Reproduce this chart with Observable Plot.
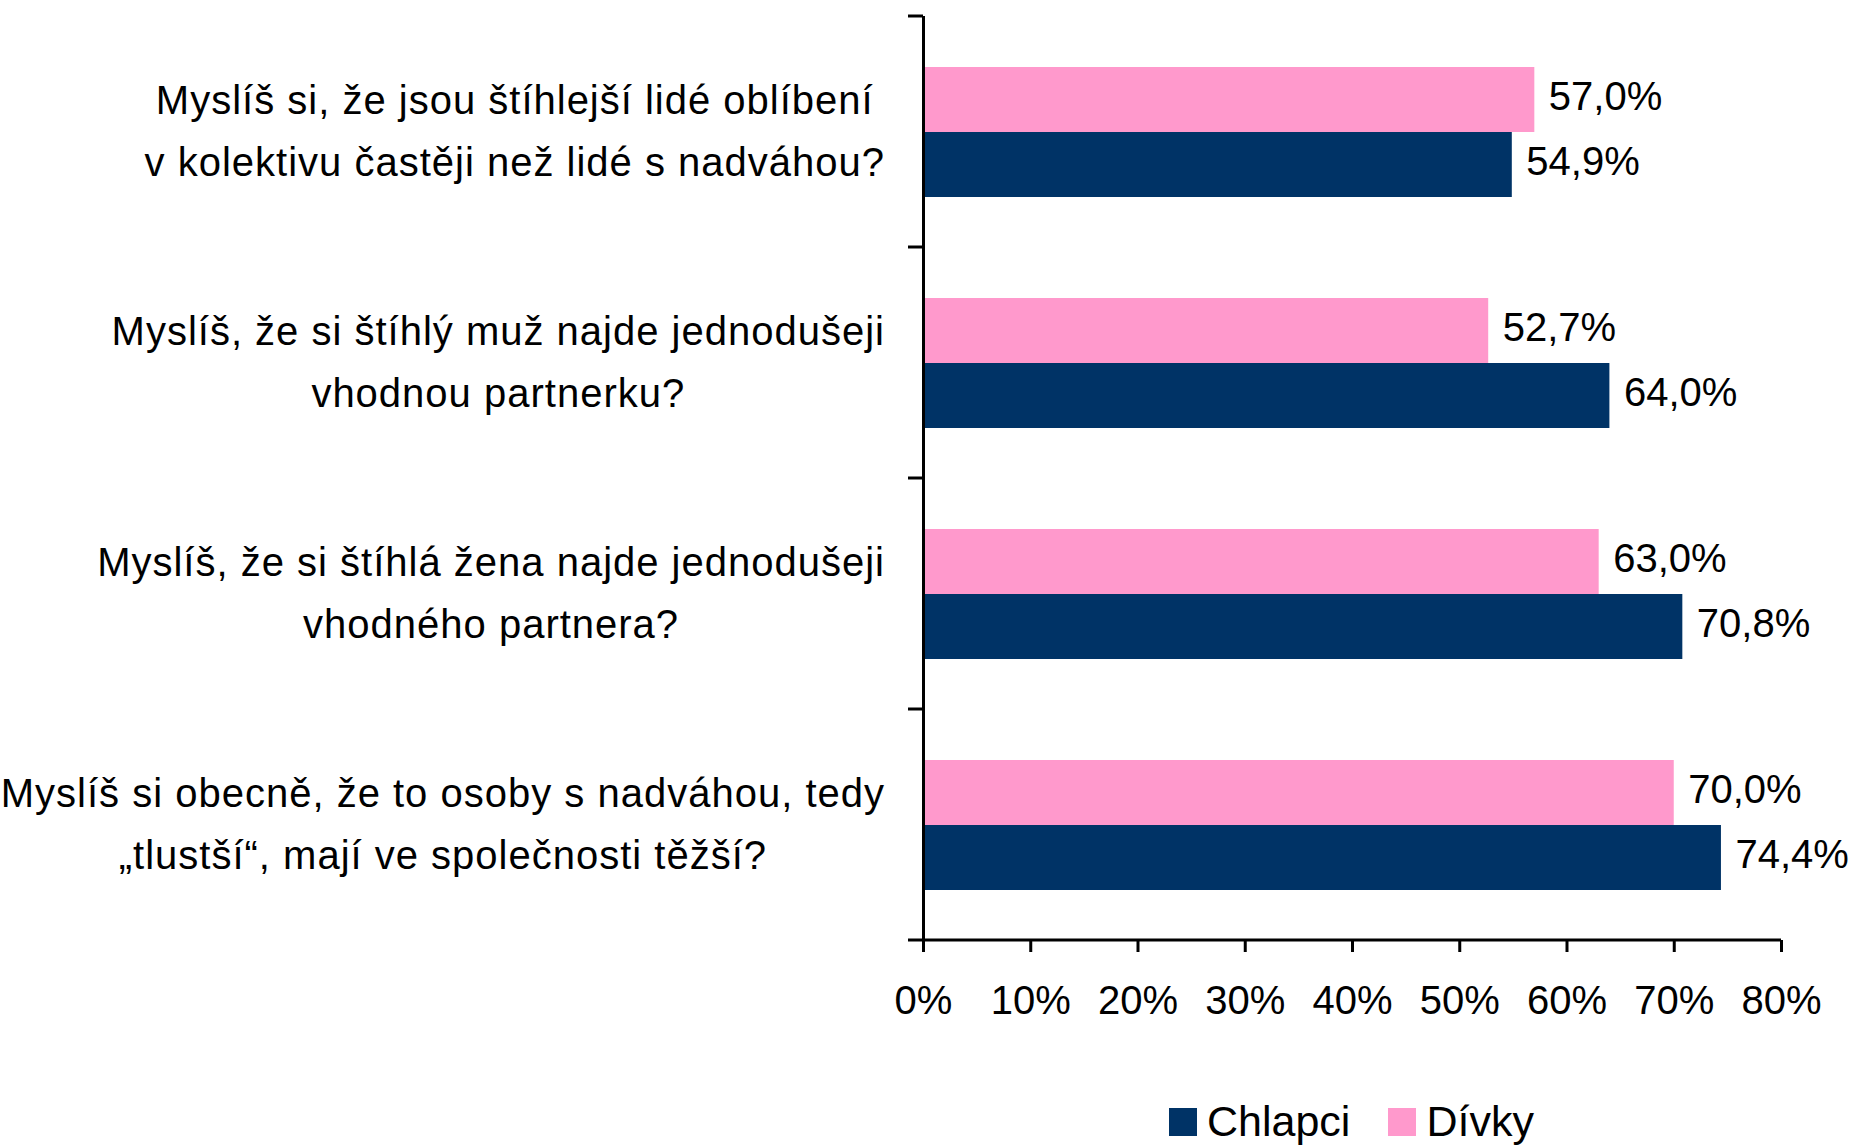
<!DOCTYPE html>
<html><head><meta charset="utf-8">
<script src="https://cdn.jsdelivr.net/npm/d3@7"></script>
<script src="https://cdn.jsdelivr.net/npm/@observablehq/plot@0.6"></script>
<style>
html,body{margin:0;padding:0;background:#fff;}
body{font-family:"Liberation Sans",Arial,sans-serif;width:1850px;height:1148px;overflow:hidden;}
#legend{height:53px;margin-top:5px;display:flex;align-items:center;padding-left:1169px;font-size:43px;color:#000;}
.item{display:flex;align-items:center;margin-right:38px;}
.sw{width:28px;height:28px;margin-right:10px;}
.cat-label text{letter-spacing:1px;}
</style></head><body>
<div id="chart"></div>
<div id="legend"></div>
<script>
const categories = [
  "Myslíš si, že jsou štíhlejší lidé oblíbení\nv kolektivu častěji než lidé s nadváhou?",
  "Myslíš, že si štíhlý muž najde jednodušeji\nvhodnou partnerku?",
  "Myslíš, že si štíhlá žena najde jednodušeji\nvhodného partnera?",
  "Myslíš si obecně, že to osoby s nadváhou, tedy\n„tlustší“, mají ve společnosti těžší?"
];
const seriesNames = ["Chlapci", "Dívky"];
const chlapci = [54.9, 64.0, 70.8, 74.4];
const divky = [57.0, 52.7, 63.0, 70.0];
const xTicks = [0, 10, 20, 30, 40, 50, 60, 70, 80];
const seriesColors = ["#003366", "#FF99CC"];

const rows = categories.flatMap((c, i) => [
  {cat: c, series: "Dívky", value: divky[i]},
  {cat: c, series: "Chlapci", value: chlapci[i]}
]);
const fmt = v => v.toFixed(1).replace(".", ",") + "%";

const chart = Plot.plot({
  width: 1850,
  height: 1090,
  marginLeft: 923,
  marginRight: 69,
  marginTop: 14,
  marginBottom: 149,
  style: {fontFamily: '"Liberation Sans", Arial, sans-serif', fontSize: "40px", color: "#000", background: "#fff", overflow: "visible"},
  x: {domain: [0, 80], axis: null},
  fy: {domain: categories, padding: 0, axis: null, label: null},
  y: {domain: ["Dívky", "Chlapci"], paddingInner: 0, paddingOuter: 0.77, axis: null},
  color: {domain: seriesNames, range: seriesColors},
  marks: [
    Plot.barX(rows, {fy: "cat", y: "series", x: "value", fill: "series"}),
    Plot.text(rows, {fy: "cat", y: "series", x: "value", text: d => fmt(d.value), textAnchor: "start", dx: 14, dy: -3, fill: "#000"}),
    Plot.text(categories, {fy: d => d, frameAnchor: "left", text: d => d, textAnchor: "middle", lineHeight: 1.55, dy: -7, fill: "#000", className: "cat-label"}),
    Plot.ruleX([0], {stroke: "#000", strokeWidth: 3}),
    Plot.axisX({ticks: xTicks, tickFormat: d => d + "%", tickSize: 12, tickPadding: 33, strokeWidth: 3, label: null, fill: "#000", stroke: "#000"})
  ]
});
document.getElementById("chart").appendChild(chart);

// category boundary ticks and x-axis baseline from Plot's own scales
const xs = chart.scale("x");
const fys = chart.scale("fy");
const x0 = xs.apply(0);
const xEnd = xs.apply(80);
const svg = d3.select(chart);
const bounds = categories.map(c => fys.apply(c));
bounds.push(fys.apply(categories[categories.length - 1]) + fys.bandwidth);
bounds.forEach((b, i) => {
  svg.append("line")
    .attr("x1", x0 - 15).attr("x2", i === bounds.length - 1 ? xEnd : x0)
    .attr("y1", b).attr("y2", b)
    .attr("stroke", "#000").attr("stroke-width", 3);
});

// block-right-align the centred category labels
const target = x0 - 38;
chart.querySelectorAll(".cat-label text").forEach(t => {
  const r = t.getBoundingClientRect();
  const sr = chart.getBoundingClientRect();
  const right = r.right - sr.left;
  const shift = target - right;
  const tr = t.getAttribute("transform") || "";
  t.setAttribute("transform", tr + ` translate(${shift},0)`);
});

// legend
const legend = document.getElementById("legend");
seriesNames.forEach((s, i) => {
  const item = document.createElement("div");
  item.className = "item";
  const sw = document.createElement("div");
  sw.className = "sw";
  sw.style.background = seriesColors[i];
  const lab = document.createElement("span");
  lab.textContent = s;
  item.appendChild(sw);
  item.appendChild(lab);
  legend.appendChild(item);
});
</script>
</body></html>
